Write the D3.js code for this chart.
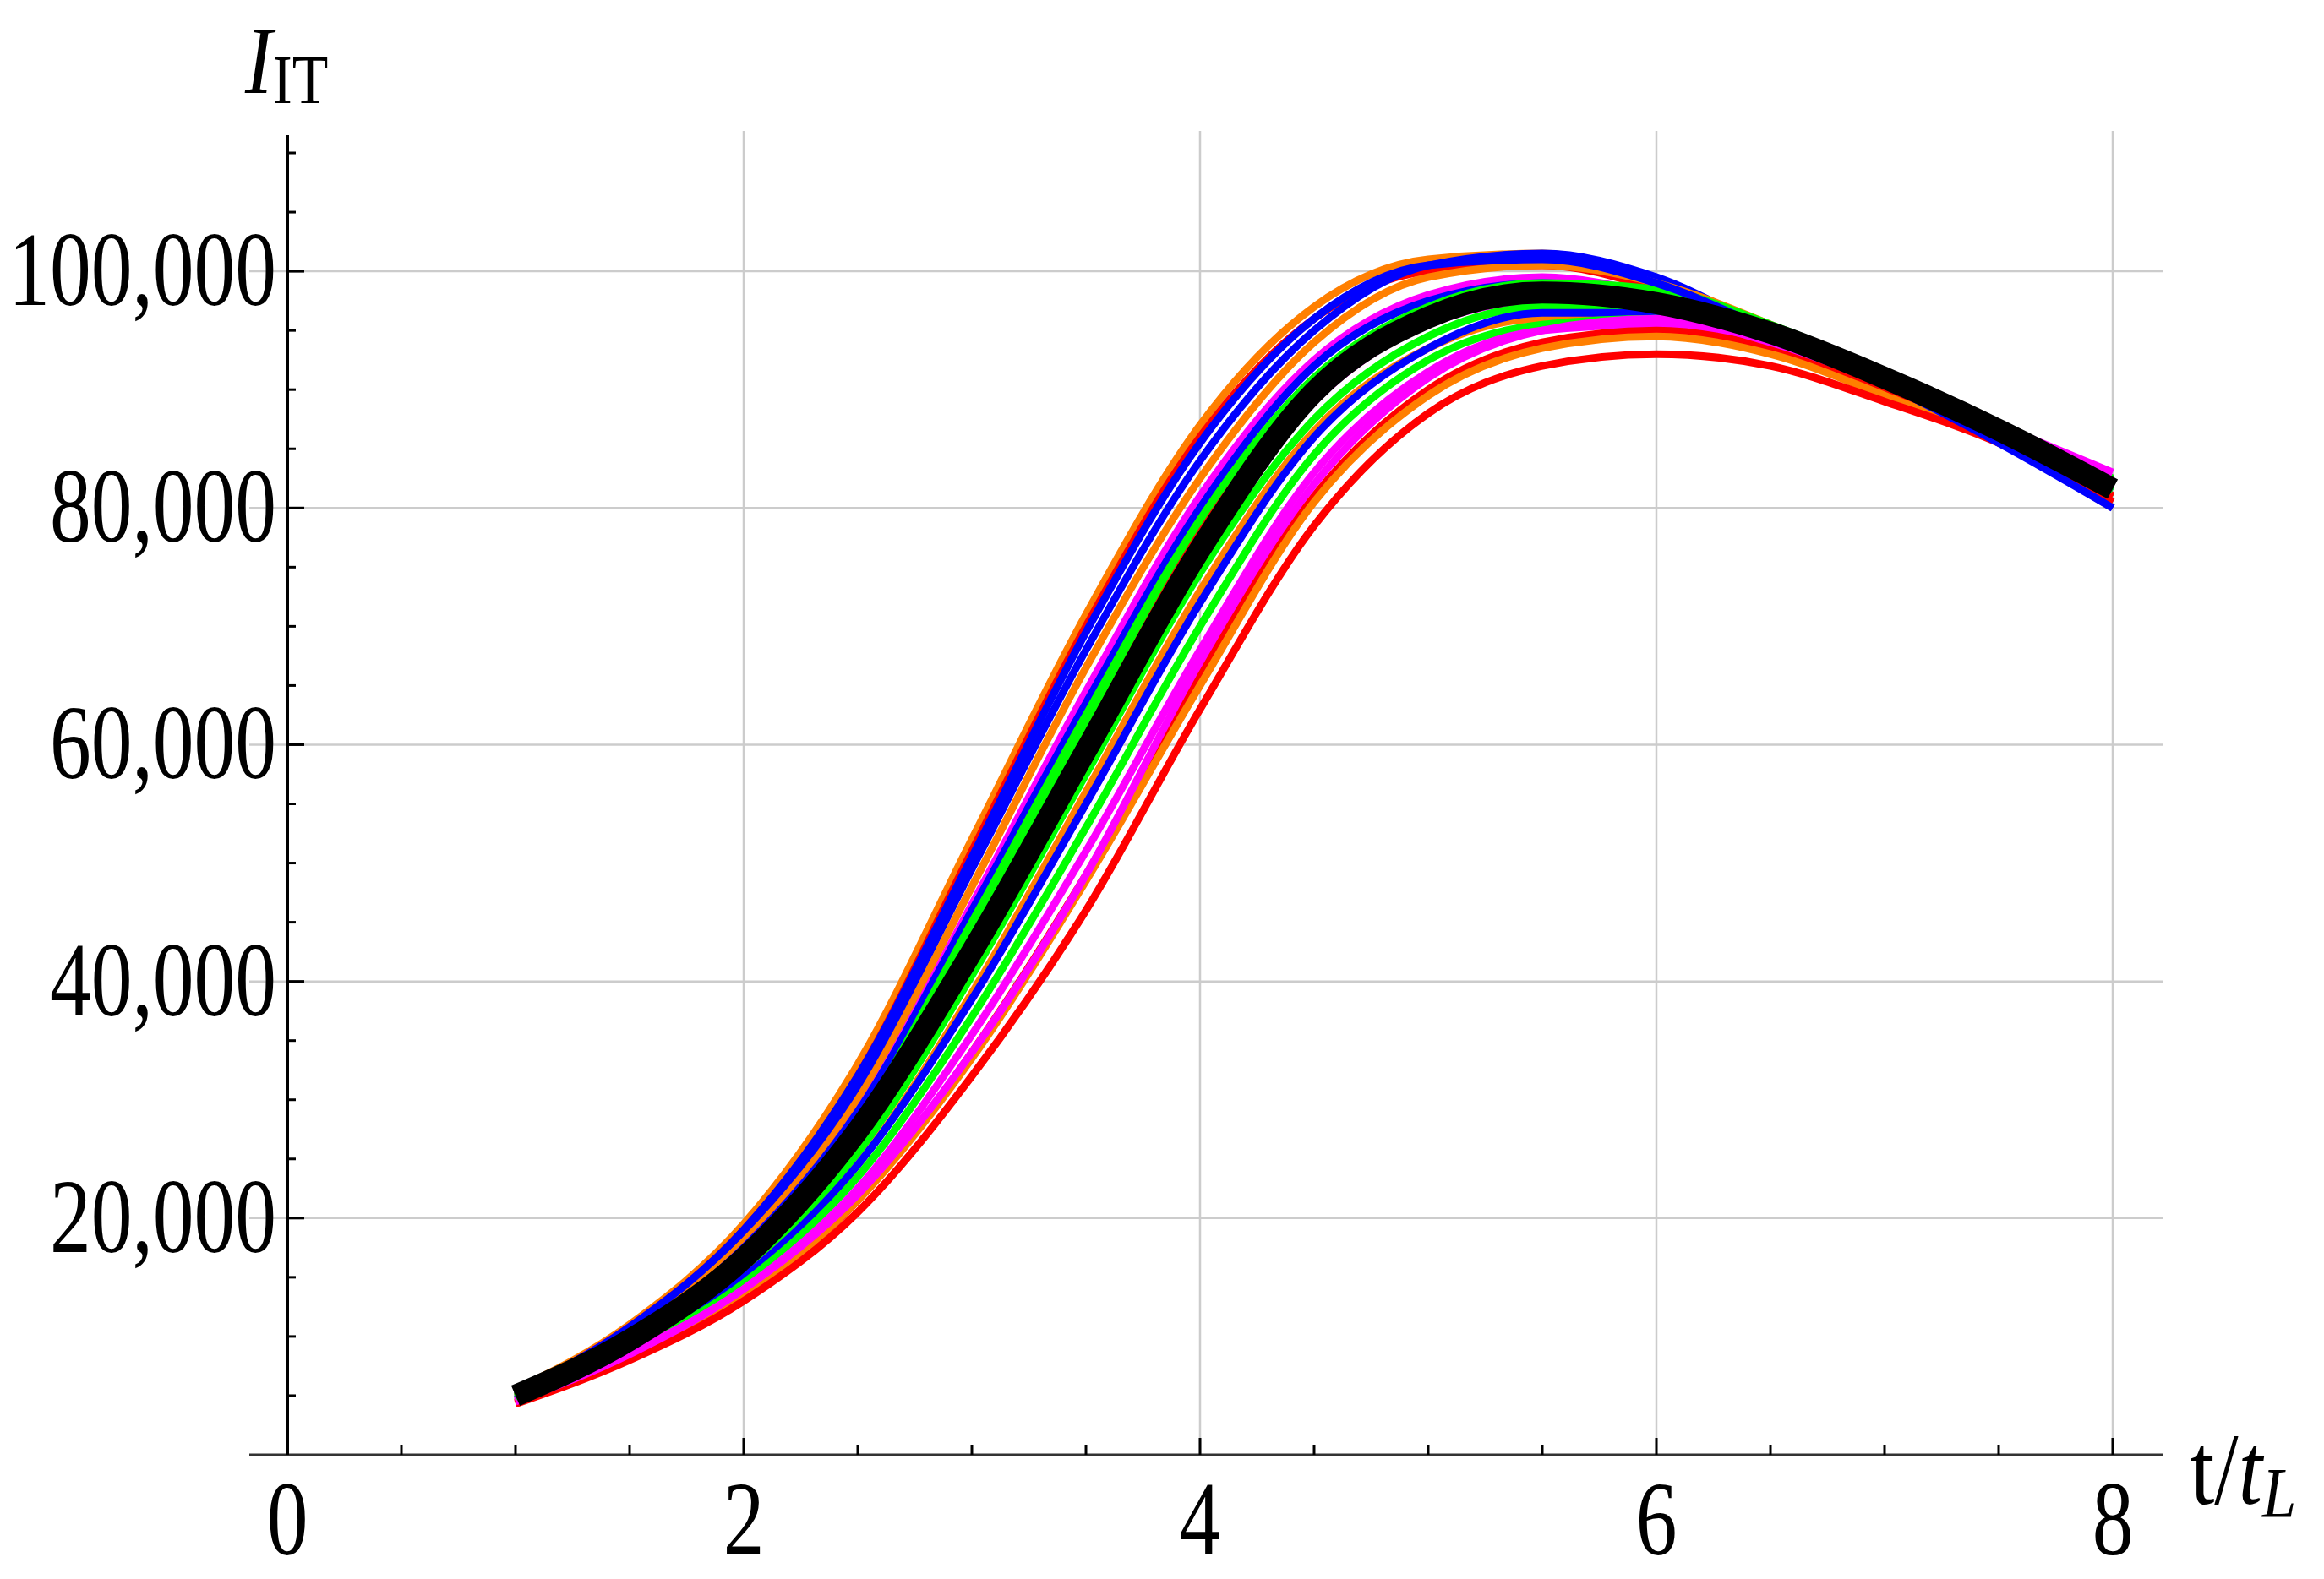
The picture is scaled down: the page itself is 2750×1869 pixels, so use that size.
<!DOCTYPE html>
<html><head><meta charset="utf-8">
<script src="https://cdn.jsdelivr.net/npm/d3@7"></script>
<style>body{margin:0;background:#fff}</style></head>
<body><svg id="c" width="2750" height="1869"></svg>
<script>
const xs = [1,1.5,2,2.5,3,3.5,4,4.5,5,5.5,6,6.5,7,7.5,8];
const meanCurve = [5,9.7,16.6,27.4,42.5,59.5,76.5,89.8,96.1,98.2,97.3,94.8,91,86.6,81.6];
const trajColors = ["#ff7f00","#ff0000","#0000ff","#ff7f00","#ff00ff","#0000ff","#00ff00","#ff0000","#ff00ff","#00ff00","#ff7f00","#0000ff","#00ff00","#ff00ff","#ff0000","#ff7f00","#ff0000","#ff00ff","#00ff00","#0000ff"];
const trajectories = [
[5.5,11,19.5,33,52,71,87,97,101,101.5,99,95,91,86.5,81],
[5.3,10.8,19,32,51,70,86,96,100,100.5,98.5,94.5,90.5,86,80.5],
[5.2,10.5,18.5,31,49.5,68,84,95,100.5,101.5,99.5,95,90.5,86,80],
[5.1,10.3,18,30,48,66.5,82.5,94,99.5,100.5,99,95.5,91,86.5,81],
[5,10,17.5,29,46.5,64.5,81,92.5,98,99.5,98,95,91,86.5,82],
[5,10,17.5,29,46,63.5,80,92,97.5,99,98,95,91,86,81],
[5,9.8,17,28,45,62.5,79,91,97,99,98.5,95.5,91.5,87,81.5],
[4.9,9.6,16.5,27,43.5,61,78,90,96,98,97.5,94.5,90.5,86,81],
[4.8,9.4,16,26.5,42,59,76,89,95.5,97.5,97,94.5,91,87,82.5],
[4.8,9.2,15.5,25.5,40.5,57.5,74.5,87.5,94.5,97,97,95,91.5,87,82],
[4.7,9,15,24.5,39,56,73,86.5,93.5,96,96,94,90,86,81],
[4.7,9,15,24.5,38.5,55,72,86,93.5,96.5,96.5,94.5,91,86.5,81.5],
[4.6,8.8,14.5,23.5,37,53,70,84.5,92.5,95.5,96,94.5,91,87,82.5],
[4.5,8.6,14,22.5,35.5,51,68,83,91.5,95,95.5,94,91,87,83],
[4.4,8.3,13.5,21.5,34,49,66,81,90,94,95,93.5,90,86,81],
[4.4,8.3,13.5,21.5,33.5,48.5,65,80.5,89.5,93.5,94.5,93,89.5,85.5,80],
[4.3,8,13,20.5,32,46,63,78.5,88,92,93,92,89,85.5,80.5],
[4.5,8.5,14,22,34,49,67,82,91,95,96,94,90.5,86.5,82],
[4.9,9.7,17,28,44.5,62,79,91,96.5,98.5,98,95,91,86.5,81.5],
[5.3,10.8,19,32,50.5,69.5,85.5,96,100.5,101,99,95,90.5,85.5,80]
];
const xMajor = [0,2,4,6,8];
const yMajor = [20000,40000,60000,80000,100000];

const svg = d3.select("#c");
const F = "'Liberation Serif', 'Times New Roman', serif";
const x = d3.scaleLinear().domain([0,8]).range([340,2500]);
const y = d3.scaleLinear().domain([0,111000]).range([1722,167]);

svg.append("g").selectAll("line").data(xMajor.slice(1)).join("line")
  .attr("x1",d=>x(d)).attr("x2",d=>x(d)).attr("y1",155).attr("y2",1722)
  .attr("stroke","#ccc").attr("stroke-width",2.5);
svg.append("g").selectAll("line").data(yMajor).join("line")
  .attr("y1",d=>y(d)).attr("y2",d=>y(d)).attr("x1",295).attr("x2",2560)
  .attr("stroke","#ccc").attr("stroke-width",2.5);

const line = d3.line().x((d,i)=>x(xs[i])).y(d=>y(d*1000)).curve(d3.curveMonotoneX);
svg.append("g").selectAll("path").data(trajectories).join("path")
  .attr("d",line).attr("fill","none").attr("stroke",(d,i)=>trajColors[i]).attr("stroke-width",9);
svg.append("path").attr("d",line(meanCurve)).attr("fill","none").attr("stroke","#000").attr("stroke-width",26);

svg.append("line").attr("x1",295).attr("x2",2560).attr("y1",1722).attr("y2",1722).attr("stroke","#333").attr("stroke-width",3);
svg.append("line").attr("x1",340).attr("x2",340).attr("y1",160).attr("y2",1722).attr("stroke","#000").attr("stroke-width",4);
const xt = d3.range(0,8.01,0.5);
svg.append("g").selectAll("line").data(xt).join("line")
  .attr("x1",d=>x(d)).attr("x2",d=>x(d)).attr("y1",1722).attr("y2",d=>1722-(d%2===0?20:12))
  .attr("stroke","#000").attr("stroke-width",3);
const yt = d3.range(5000,111000,5000);
svg.append("g").selectAll("line").data(yt).join("line")
  .attr("y1",d=>y(d)).attr("y2",d=>y(d)).attr("x1",340).attr("x2",d=>340+(d%20000===0?20:10))
  .attr("stroke","#000").attr("stroke-width",3);

svg.append("g").selectAll("text").data(xMajor).join("text")
  .attr("transform",d=>`translate(${x(d)},1840) scale(0.78,1)`).attr("text-anchor","middle")
  .attr("font-family",F).attr("font-size",125).text(d=>d);
svg.append("g").selectAll("text").data(yMajor).join("text")
  .attr("transform",d=>`translate(327,${y(d)+40}) scale(0.78,1)`).attr("text-anchor","end")
  .attr("font-family",F).attr("font-size",125).text(d=>d3.format(",")(d));

const yl = svg.append("text").attr("transform","translate(290,110) scale(0.85,1)").attr("font-family",F).attr("font-size",115);
yl.append("tspan").attr("font-style","italic").text("I");
yl.append("tspan").attr("font-size",82).attr("dy",12).text("IT");
const xl = svg.append("text").attr("transform","translate(2592,1780) scale(0.85,1)").attr("font-family",F).attr("font-size",120);
xl.append("tspan").text("t/");
xl.append("tspan").attr("font-style","italic").text("t");
xl.append("tspan").attr("font-style","italic").attr("font-size",85).attr("dy",16).text("L");
</script></body></html>
